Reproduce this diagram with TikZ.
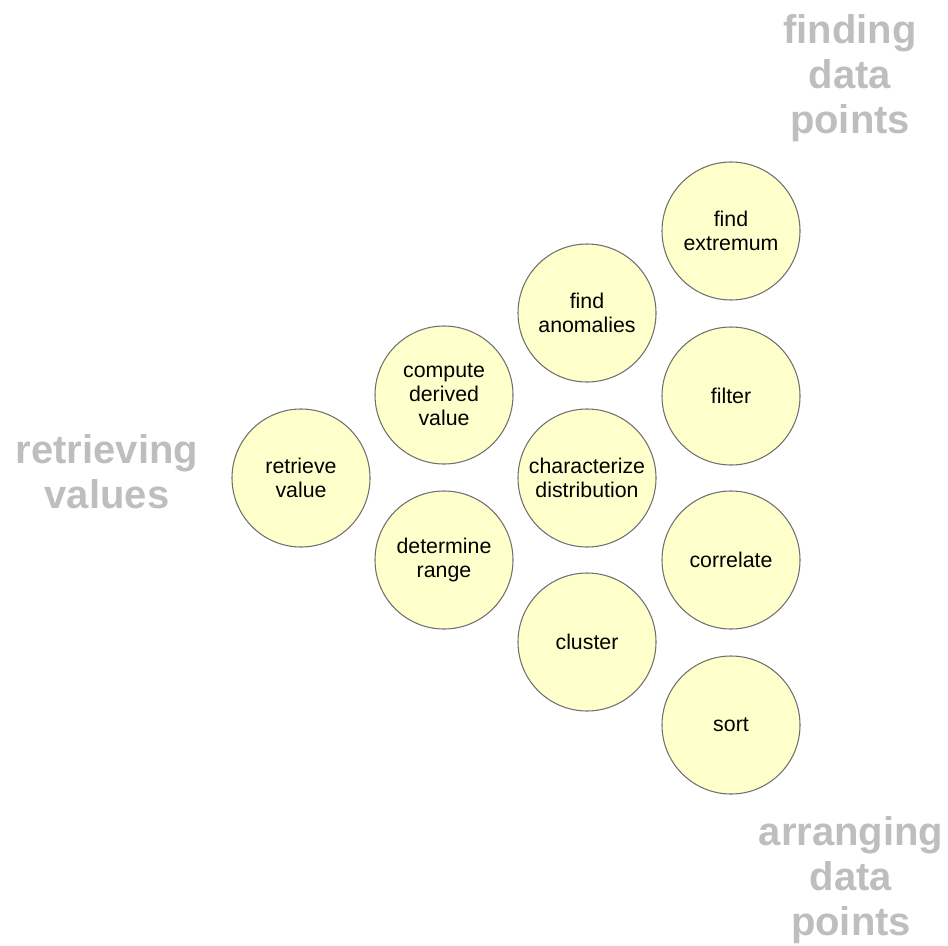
\documentclass[tikz,border=0pt]{standalone}
\usepackage{fontspec}
\setmainfont{Liberation Sans}
\definecolor{bubble}{RGB}{255,255,204}
\definecolor{rim}{RGB}{112,112,112}
\definecolor{cat}{RGB}{190,190,190}
\begin{document}
\begin{tikzpicture}[x=0.75pt,y=-0.75pt,
  task/.style={circle, draw=rim, line width=0.8pt, fill=bubble, minimum size=103.5pt,
    inner sep=0pt, align=center, font=\fontsize{16}{18}\selectfont},
  group/.style={text=cat, align=center, inner sep=0pt, anchor=north,
    font=\fontsize{30}{34}\selectfont\bfseries}]
\useasboundingbox (0,0) rectangle (948,945);

\node[task] (rv)  at (301,478) {retrieve\\value};
\node[task] (cdv) at (444,395) {compute\\derived\\value};
\node[task] (dr)  at (444,560) {determine\\range};
\node[task] (fa)  at (587,313) {find\\anomalies};
\node[task] (cd)  at (587,478) {characterize\\distribution};
\node[task] (cl)  at (587,642) {cluster};
\node[task] (fe)  at (731,231) {find\\extremum};
\node[task] (fi)  at (731,396) {filter};
\node[task] (co)  at (731,560) {correlate};
\node[task] (so)  at (731,725) {sort};

\node[group] (gfind) at (850,14)  {finding\\data\\points};
\node[group] (gret)  at (107,434) {retrieving\\values};
\node[group] (garr)  at (851,816) {arranging\\data\\points};
\end{tikzpicture}
\end{document}
